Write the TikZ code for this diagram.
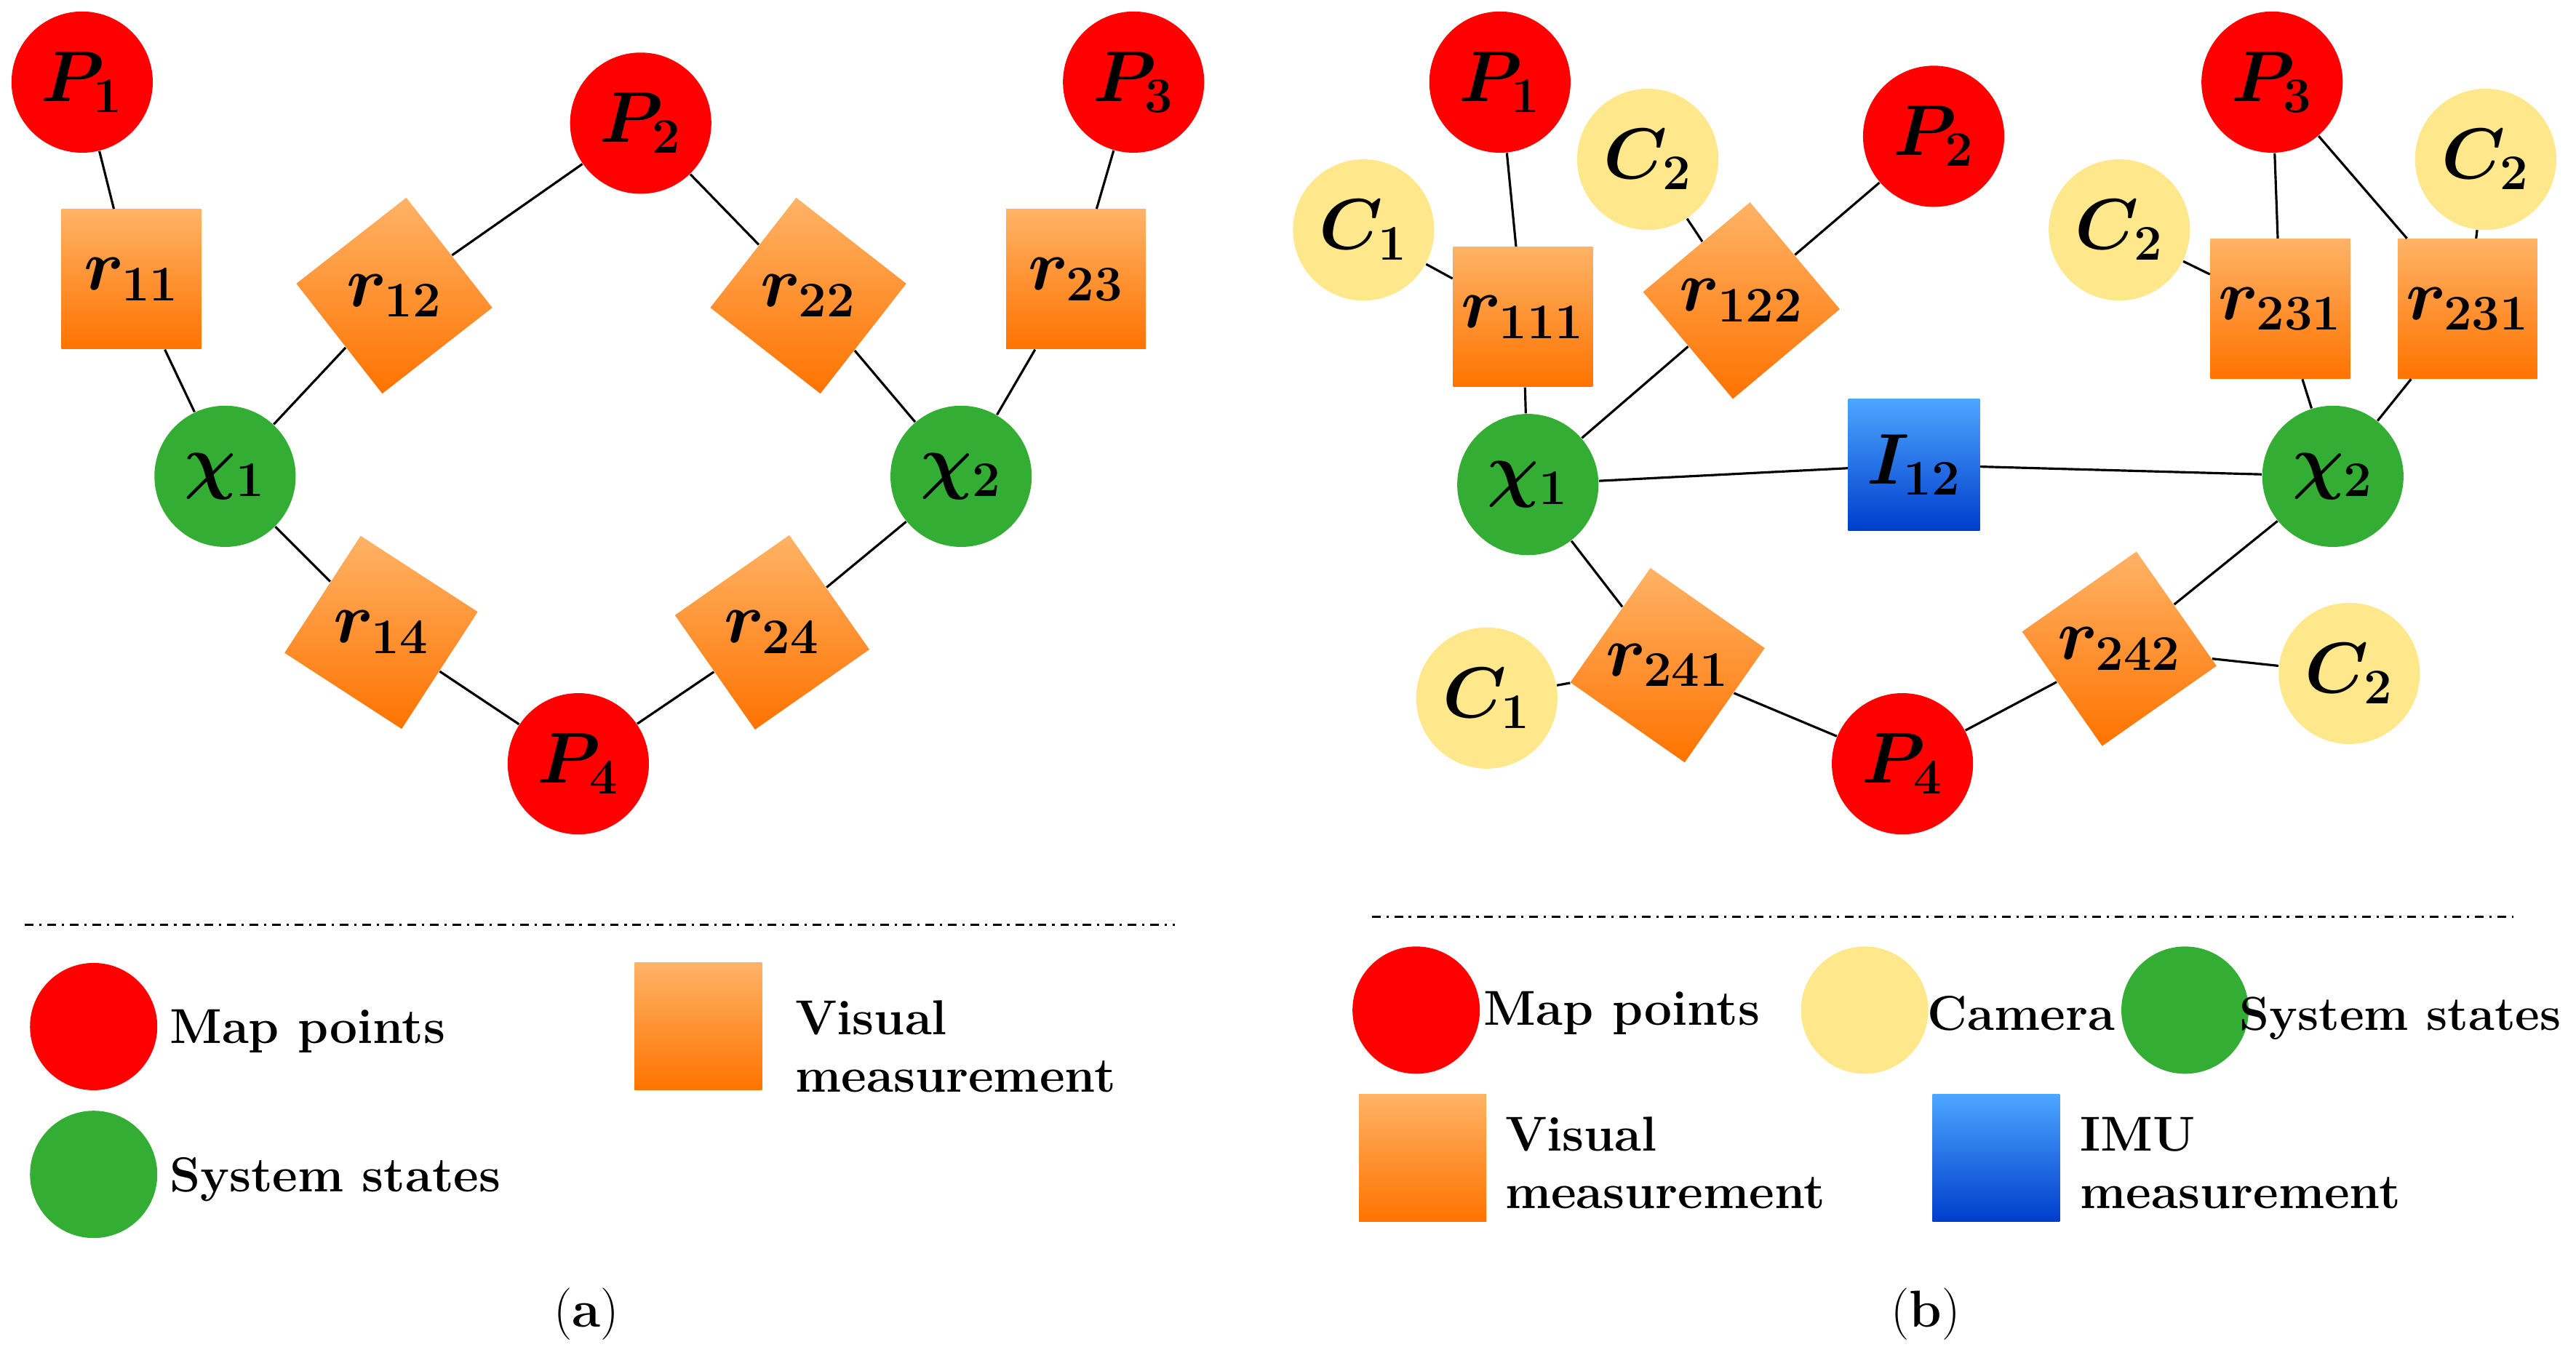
\documentclass[tikz,border=0pt]{standalone}
\usepackage{amsmath,bm}
\tikzset{
  base/.style = {inner sep=0pt, font=\fontsize{26}{28}\selectfont},
  mappt/.style = {base, circle, minimum size=1.72cm, fill=red},
  cam/.style = {base, circle, minimum size=1.72cm, fill=orange!40!yellow!45},
  state/.style = {base, circle, minimum size=1.72cm, fill=green!60!black!80},
  vis/.style = {base, minimum size=1.7cm, top color=orange!60, bottom color=orange!90!red},
  imu/.style = {base, minimum size=1.6cm, top color=blue!50!cyan!70, bottom color=blue!70!cyan!80!black},
  small/.style = {minimum size=1.55cm},
  leg/.style = {font=\fontsize{17}{20}\selectfont\bfseries, align=left, anchor=west},
  edge/.style = {thick}
}
\begin{document}
\begin{tikzpicture}[x=0.02cm, y=-0.02cm]
\useasboundingbox (0,0) rectangle (1568,820);
% (a)
\node[mappt] (aP1) at (50,50) {$\bm{P_1}$};
\node[mappt] (aP2) at (390,75) {$\bm{P_2}$};
\node[mappt] (aP3) at (690,50) {$\bm{P_3}$};
\node[mappt] (aP4) at (352,465) {$\bm{P_4}$};
\node[state] (ax1) at (137,290) {$\bm{\chi_1}$};
\node[state] (ax2) at (585,290) {$\bm{\chi_2}$};
\node[vis] (ar11) at (80,170) {$\bm{r_{11}}$};
\node[vis, rotate=38] (ar12) at (240,180) {};
\node[base] at (ar12) {$\bm{r_{12}}$};
\node[vis, rotate=-38] (ar22) at (492,180) {};
\node[base] at (ar22) {$\bm{r_{22}}$};
\node[vis] (ar23) at (655,170) {$\bm{r_{23}}$};
\node[vis, rotate=-33] (ar14) at (232,385) {};
\node[base] at (ar14) {$\bm{r_{14}}$};
\node[vis, rotate=35] (ar24) at (470,385) {};
\node[base] at (ar24) {$\bm{r_{24}}$};
\draw[edge] (aP1) -- (ar11) -- (ax1) -- (ar12) -- (aP2) -- (ar22) -- (ax2) -- (ar23) -- (aP3);
\draw[edge] (ax1) -- (ar14) -- (aP4) -- (ar24) -- (ax2);
\coordinate (adl) at (15,563); \coordinate (adr) at (715,563);
\draw[thick, dash dot] (adl) -- (adr);
\node[mappt, small] (alP) at (57,625) {};
\node[leg] at (97,628) {Map points};
\node[vis, small] (alV) at (425,625) {};
\node[leg] at (478,637) {Visual\\measurement};
\node[state, small] (alS) at (57,715) {};
\node[leg] at (97,718) {System states};
\node[font=\fontsize{18}{20}\selectfont] at (357,800) {(\textbf{a})};
% (b)
\node[mappt] (bP1) at (913,50) {$\bm{P_1}$};
\node[mappt] (bP2) at (1177,83) {$\bm{P_2}$};
\node[mappt] (bP3) at (1383,50) {$\bm{P_3}$};
\node[mappt] (bP4) at (1158,465) {$\bm{P_4}$};
\node[cam] (bC1) at (830,140) {$\bm{C_1}$};
\node[cam] (bC2a) at (1003,97) {$\bm{C_2}$};
\node[cam] (bC2b) at (1290,140) {$\bm{C_2}$};
\node[cam] (bC2c) at (1513,97) {$\bm{C_2}$};
\node[cam] (bC1b) at (905,425) {$\bm{C_1}$};
\node[cam] (bC2d) at (1430,410) {$\bm{C_2}$};
\node[state] (bx1) at (930,295) {$\bm{\chi_1}$};
\node[state] (bx2) at (1420,290) {$\bm{\chi_2}$};
\node[imu] (bI) at (1165,283) {$\bm{I_{12}}$};
\node[vis] (br111) at (927,193) {$\bm{r_{111}}$};
\node[vis, rotate=40] (br122) at (1060,183) {};
\node[base] at (br122) {$\bm{r_{122}}$};
\node[vis] (br231a) at (1388,188) {$\bm{r_{231}}$};
\node[vis] (br231b) at (1502,188) {$\bm{r_{231}}$};
\node[vis, rotate=-35] (br241) at (1015,405) {};
\node[base] at (br241) {$\bm{r_{241}}$};
\node[vis, rotate=35] (br242) at (1290,395) {};
\node[base] at (br242) {$\bm{r_{242}}$};
\draw[edge] (bP1) -- (br111) -- (bx1) -- (br122) -- (bP2);
\draw[edge] (bC1) -- (br111); \draw[edge] (bC2a) -- (br122);
\draw[edge] (bx1) -- (bI) -- (bx2);
\draw[edge] (bP3) -- (br231a) -- (bx2) -- (br231b) -- (bP3);
\draw[edge] (bC2b) -- (br231a); \draw[edge] (bC2c) -- (br231b);
\draw[edge] (bx1) -- (br241) -- (bP4) -- (br242) -- (bx2);
\draw[edge] (bC1b) -- (br241); \draw[edge] (br242) -- (bC2d);
\coordinate (bdl) at (835,558); \coordinate (bdr) at (1530,558);
\draw[thick, dash dot] (bdl) -- (bdr);
\node[mappt, small] (blP) at (862,615) {};
\node[leg] at (897,617) {Map points};
\node[cam, small] (blC) at (1135,615) {};
\node[leg] at (1167,617) {Camera};
\node[state, small] (blS) at (1330,615) {};
\node[leg, font=\fontsize{16.5}{20}\selectfont\bfseries] at (1357,620) {System states};
\node[vis, small] (blV) at (866,705) {};
\node[leg] at (910,708) {Visual\\measurement};
\node[imu, small] (blI) at (1215,705) {};
\node[leg] at (1260,708) {IMU\\measurement};
\node[font=\fontsize{18}{20}\selectfont] at (1172,800) {(\textbf{b})};
\end{tikzpicture}
\end{document}
